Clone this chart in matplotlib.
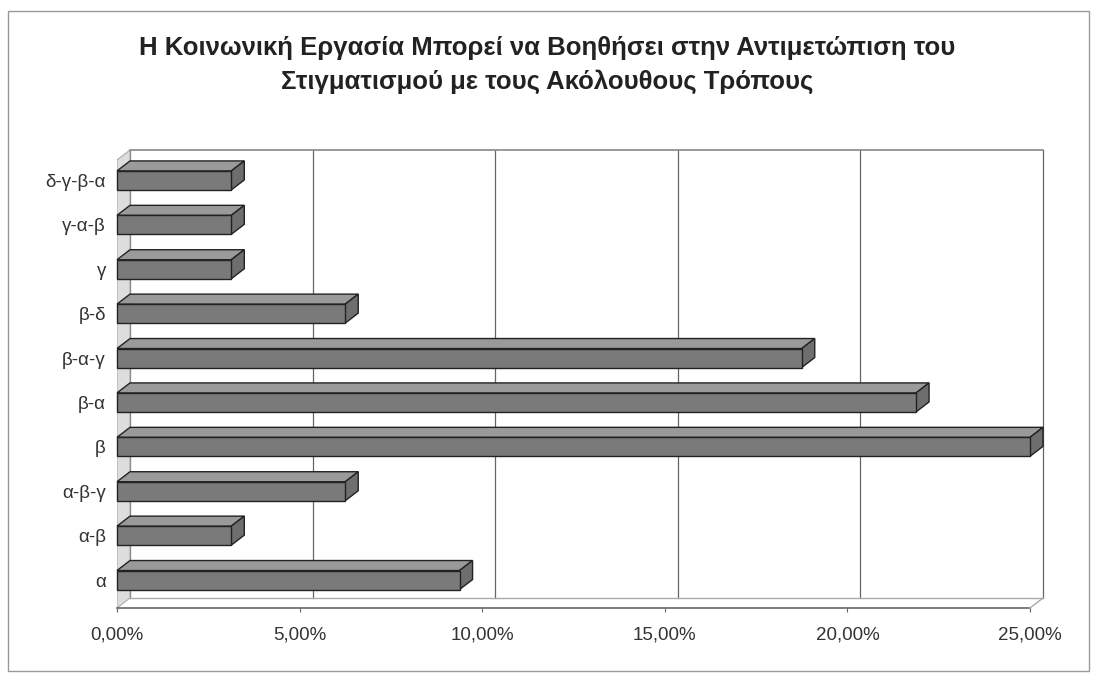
import matplotlib.pyplot as plt
from matplotlib.patches import Polygon, Rectangle

plt.rcParams['font.family'] = ['Liberation Sans', 'DejaVu Sans']

categories = ["α", "α-β", "α-β-γ", "β", "β-α", "β-α-γ", "β-δ", "γ", "γ-α-β", "δ-γ-β-α"]
values = [9.38, 3.13, 6.25, 25.0, 21.88, 18.75, 6.25, 3.13, 3.13, 3.13]
xticks = [0, 5, 10, 15, 20, 25]
xticklabels = ["0,00%", "5,00%", "10,00%", "15,00%", "20,00%", "25,00%"]
title = "Η Κοινωνική Εργασία Μπορεί να Βοηθήσει στην Αντιμετώπιση του\nΣτιγματισμού με τους Ακόλουθους Τρόπους"

W, H = 1095, 674
fig = plt.figure(figsize=(W / 100, H / 100), dpi=100)

# plot area in pixels (front axis)
px_left, px_right, px_top, px_bot = 117, 1050, 150, 608
ax = fig.add_axes([px_left / W, 1 - px_bot / H, (px_right - px_left) / W, (px_bot - px_top) / H])
xscale = (1030 - 117) / 25.0      # px per %
yscale = 44.4                      # px per category
x_max = (px_right - px_left) / xscale
y_min = -0.63
y_max = y_min + (px_bot - px_top) / yscale
ax.set_xlim(0, x_max)
ax.set_ylim(y_min, y_max)

dx = 13 / xscale
dy = 10 / yscale
bh = 19 / yscale

# back wall + gridlines
for t in xticks:
    ax.plot([t + dx, t + dx], [y_min + dy, y_max], color="#666666", lw=0.9, zorder=1)
ax.plot([dx, 25 + dx], [y_max, y_max], color="#888888", lw=1.2, clip_on=False)
ax.plot([dx, 25 + dx], [y_min + dy, y_min + dy], color="#aaaaaa", lw=1)
# left side wall
ax.add_patch(Polygon([(0, y_min), (dx, y_min + dy), (dx, y_max), (0, y_max - dy)],
                     closed=True, facecolor="#dddddd", edgecolor="#aaaaaa", lw=0.8, zorder=1))
# floor front edge
ax.plot([0, 25], [y_min, y_min], color="#666666", lw=1.2, clip_on=False)
ax.plot([25, 25 + dx], [y_min, y_min + dy], color="#aaaaaa", lw=1, clip_on=False)

for i, v in enumerate(values):
    y0 = i - bh / 2
    y1 = i + bh / 2
    ax.add_patch(Polygon([(0, y1), (v, y1), (v + dx, y1 + dy), (dx, y1 + dy)], closed=True,
                         facecolor="#9a9a9a", edgecolor="#222222", lw=1, zorder=3, clip_on=False))
    ax.add_patch(Polygon([(v, y0), (v + dx, y0 + dy), (v + dx, y1 + dy), (v, y1)], closed=True,
                         facecolor="#6e6e6e", edgecolor="#222222", lw=1, zorder=3, clip_on=False))
    ax.add_patch(Rectangle((0, y0), v, bh, facecolor="#7a7a7a", edgecolor="#222222",
                           lw=1, zorder=4, clip_on=False))

for s in ax.spines.values():
    s.set_visible(False)
ax.set_xticks(xticks)
ax.set_xticklabels(xticklabels, fontsize=13.5, color="#333333")
ax.tick_params(axis="x", length=3, pad=10, color="#666666")
ax.set_yticks(range(len(categories)))
ax.set_yticklabels(categories, fontsize=13.5, color="#333333")
ax.tick_params(axis="y", length=0, pad=8)

fig.text(0.5, 1 - 65 / H, title, ha="center", va="center", fontsize=18.5, fontweight="bold",
         family=["Liberation Sans Narrow", "Liberation Sans", "DejaVu Sans"],
         color="#222222", linespacing=1.45)

# chart border
fig.patches.append(Rectangle((8 / W, 0.005), (W - 14) / W, 1 - 11 / H - 0.005, transform=fig.transFigure,
                             fill=False, edgecolor="#999999", lw=1))

fig.savefig("out.png", dpi=100, facecolor="white")
